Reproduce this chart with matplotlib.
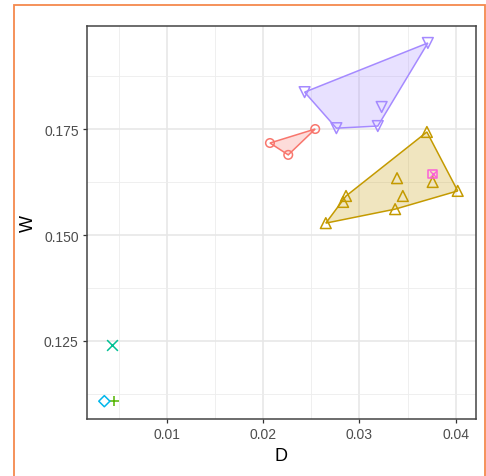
import matplotlib
matplotlib.use("Agg")
import matplotlib.pyplot as plt
from matplotlib.patches import Rectangle, Polygon
import numpy as np

plt.rcParams['font.family'] = ['Liberation Sans', 'DejaVu Sans']

groups = ["A", "B", "C", "D", "E", "F", "G"]
colors = ["#F8766D", "#C49A00", "#53B400", "#00C094", "#00B6EB", "#A58AFF", "#FB61D7"]
markers = ["o", "^", "+", "x", "D", "v", "boxx"]

D_vals = {
    "A": [0.0207, 0.0226, 0.0254],
    "B": [0.0370, 0.0402, 0.0339, 0.0345, 0.0376, 0.0286, 0.0283, 0.0337, 0.0265],
    "C": [0.0045],
    "D": [0.0043],
    "E": [0.0035],
    "F": [0.0371, 0.0243, 0.0276, 0.0319, 0.0323],
    "G": [0.0376],
}
W_vals = {
    "A": [0.1717, 0.1689, 0.1750],
    "B": [0.1743, 0.1604, 0.1634, 0.1592, 0.1625, 0.1592, 0.1578, 0.1561, 0.1528],
    "C": [0.1108],
    "D": [0.1241],
    "E": [0.1108],
    "F": [0.1953, 0.1837, 0.1752, 0.1757, 0.1802],
    "G": [0.1644],
}

x_ticks = [0.01, 0.02, 0.03, 0.04]
x_labels = ["0.01", "0.02", "0.03", "0.04"]
y_ticks = [0.125, 0.150, 0.175]
y_labels = ["0.125", "0.150", "0.175"]


def hull(pts):
    pts = sorted(set(pts))
    if len(pts) < 3:
        return pts
    def cross(o, a, b):
        return (a[0]-o[0])*(b[1]-o[1]) - (a[1]-o[1])*(b[0]-o[0])
    lower, upper = [], []
    for p in pts:
        while len(lower) >= 2 and cross(lower[-2], lower[-1], p) <= 0:
            lower.pop()
        lower.append(p)
    for p in reversed(pts):
        while len(upper) >= 2 and cross(upper[-2], upper[-1], p) <= 0:
            upper.pop()
        upper.append(p)
    return lower[:-1] + upper[:-1]


fig = plt.figure(figsize=(4.86, 4.77), dpi=100)
# orange frame
fig.patches.append(Rectangle((14/486, -0.1), (485-14)/486, 1 - 6/477 + 0.1,
                             transform=fig.transFigure, fill=False,
                             edgecolor="#F5894D", linewidth=1.3))

ax = fig.add_axes([87/486, 1 - 420/477, (476-87)/486, (420-27)/477])
ax.set_xlim(0.0017, 0.0421)
ax.set_ylim(0.1066, 0.1993)

for g, c, m in zip(groups, colors, markers):
    xs, ys = D_vals[g], W_vals[g]
    h = hull(list(zip(xs, ys)))
    if len(h) >= 3:
        ax.add_patch(Polygon(h, closed=True, facecolor=c, alpha=0.25, edgecolor="none", zorder=2))
        ax.add_patch(Polygon(h, closed=True, fill=False, edgecolor=c, linewidth=1.1, zorder=3))
    if m == "boxx":
        ax.scatter(xs, ys, marker="s", s=40, facecolors="none", edgecolors=c, linewidths=1.1, zorder=4)
        ax.scatter(xs, ys, marker="x", s=22, color=c, linewidths=1.0, zorder=4)
    elif m in ("+", "x"):
        ax.scatter(xs, ys, marker=m, s=60, color=c, linewidths=1.1, zorder=4)
    else:
        s = 38 if m == "o" else 60
        if m == "D":
            s = 32
        ax.scatter(xs, ys, marker=m, s=s, facecolors="none", edgecolors=c, linewidths=1.1, zorder=4)

ax.set_xticks(x_ticks)
ax.set_xticklabels(x_labels)
ax.set_yticks(y_ticks)
ax.set_yticklabels(y_labels)
ax.set_xticks([0.005, 0.015, 0.025, 0.035], minor=True)
ax.set_yticks([0.1125, 0.1375, 0.1625, 0.1875], minor=True)
ax.grid(True, which="major", color="#E6E6E6", linewidth=1.1, zorder=0)
ax.grid(True, which="minor", color="#EDEDED", linewidth=0.6, zorder=0)
ax.set_axisbelow(True)
ax.tick_params(which="major", direction="out", length=3, width=0.9, color="#333333",
               labelcolor="#4D4D4D", labelsize=10, pad=3)
ax.tick_params(which="minor", length=0)
for sp in ax.spines.values():
    sp.set_color("#444444")
    sp.set_linewidth(1.1)
ax.set_xlabel("D", fontsize=13, color="black", labelpad=4)
ax.set_ylabel("W", fontsize=13, color="black", labelpad=5)

fig.savefig("out.png", dpi=100)
